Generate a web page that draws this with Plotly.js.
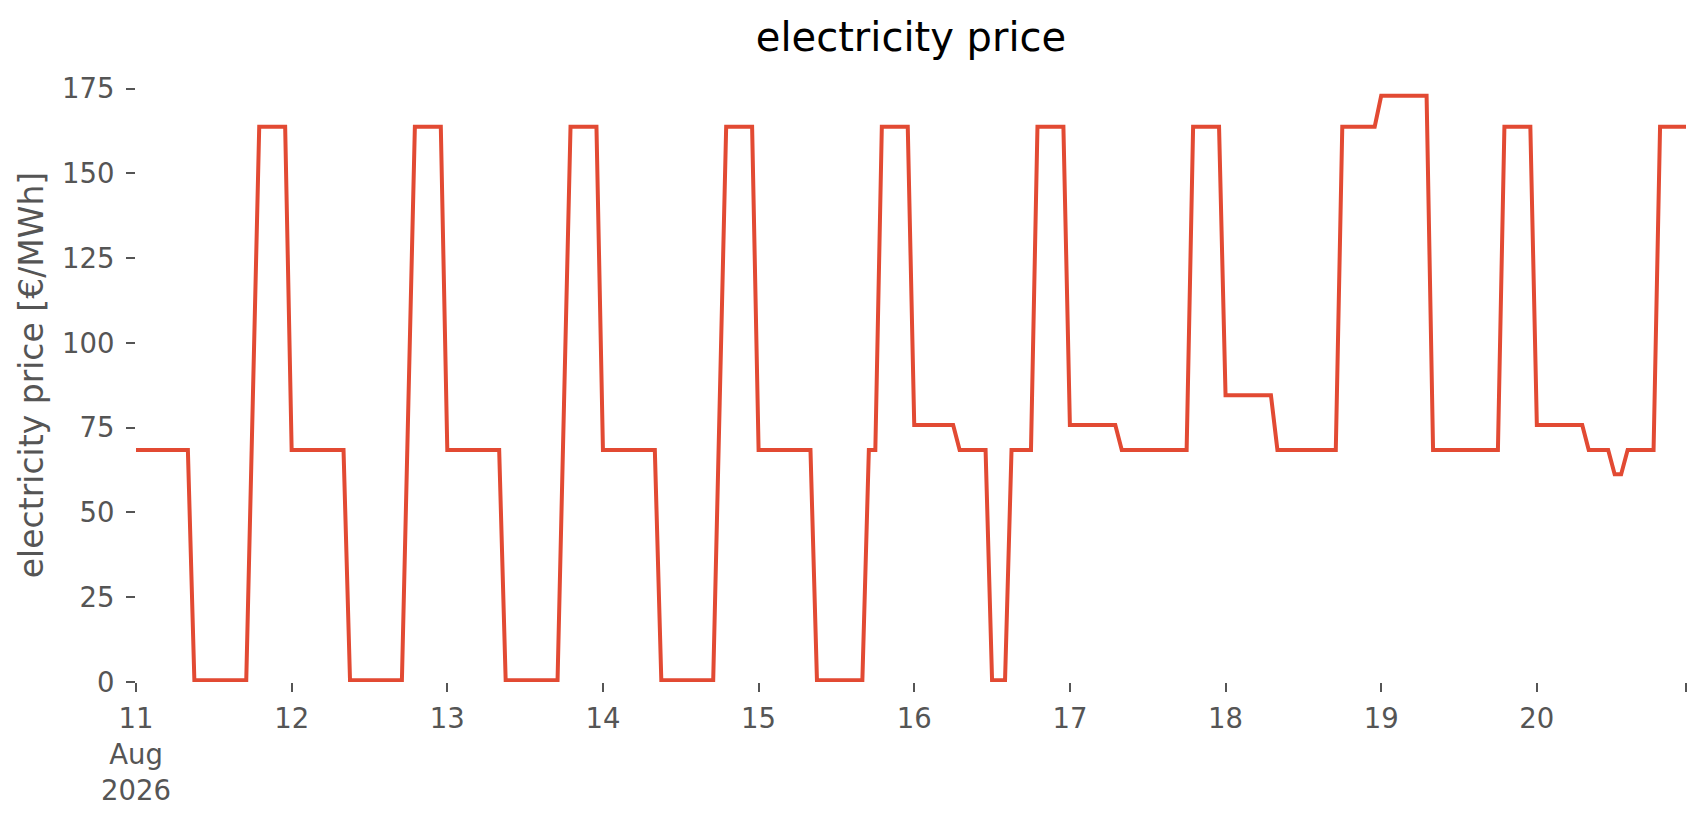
<!DOCTYPE html>
<html>
<head>
<meta charset="utf-8">
<script src="https://cdn.plot.ly/plotly-3.0.1.min.js"></script>
<style>
  html, body { margin: 0; padding: 0; background: #ffffff; }
  #price-plot { width: 1706px; height: 815px; }
</style>
</head>
<body>
<div id="price-plot"></div>
<script>
// hourly prices, one row per day, starting 2026-08-11 00:00
var start_time = '2026-08-11T00:00:00';
var day_prices_11 = [68.4,68.4,68.4,68.4,68.4,68.4,68.4,68.4,68.4, 0.5,0.5,0.5,0.5,0.5,0.5,0.5,0.5,0.5, 82.2, 163.8,163.8,163.8,163.8,163.8];
var day_prices_12 = [68.4,68.4,68.4,68.4,68.4,68.4,68.4,68.4,68.4, 0.5,0.5,0.5,0.5,0.5,0.5,0.5,0.5,0.5, 82.2, 163.8,163.8,163.8,163.8,163.8];
var day_prices_13 = [68.4,68.4,68.4,68.4,68.4,68.4,68.4,68.4,68.4, 0.5,0.5,0.5,0.5,0.5,0.5,0.5,0.5,0.5, 82.2, 163.8,163.8,163.8,163.8,163.8];
var day_prices_14 = [68.4,68.4,68.4,68.4,68.4,68.4,68.4,68.4,68.4, 0.5,0.5,0.5,0.5,0.5,0.5,0.5,0.5,0.5, 82.2, 163.8,163.8,163.8,163.8,163.8];
var day_prices_15 = [68.4,68.4,68.4,68.4,68.4,68.4,68.4,68.4,68.4, 0.5,0.5,0.5,0.5,0.5,0.5,0.5,0.5, 68.4,68.4, 163.8,163.8,163.8,163.8,163.8];
var day_prices_16 = [75.8,75.8,75.8,75.8,75.8,75.8,75.8, 68.4,68.4,68.4,68.4,68.4, 0.5,0.5,0.5, 68.4,68.4,68.4,68.4, 163.8,163.8,163.8,163.8,163.8];
var day_prices_17 = [75.8,75.8,75.8,75.8,75.8,75.8,75.8,75.8, 68.4,68.4,68.4,68.4,68.4,68.4,68.4,68.4,68.4,68.4,68.4, 163.8,163.8,163.8,163.8,163.8];
var day_prices_18 = [84.6,84.6,84.6,84.6,84.6,84.6,84.6,84.6, 68.4,68.4,68.4,68.4,68.4,68.4,68.4,68.4,68.4,68.4, 163.8,163.8,163.8,163.8,163.8,163.8];
var day_prices_19 = [172.9,172.9,172.9,172.9,172.9,172.9,172.9,172.9, 68.4,68.4,68.4,68.4,68.4,68.4,68.4,68.4,68.4,68.4,68.4, 163.8,163.8,163.8,163.8,163.8];
var day_prices_20 = [75.8,75.8,75.8,75.8,75.8,75.8,75.8,75.8, 68.4,68.4,68.4,68.4, 61.3,61.3, 68.4,68.4,68.4,68.4,68.4, 163.8,163.8,163.8,163.8,163.8];

var tick_dates = ['2026-08-11','2026-08-12','2026-08-13','2026-08-14','2026-08-15',
                  '2026-08-16','2026-08-17','2026-08-18','2026-08-19','2026-08-20','2026-08-20 23:00'];
var tick_labels = ['11<br>Aug<br>2026','12','13','14','15','16','17','18','19','20',''];
var y_ticks = [0, 25, 50, 75, 100, 125, 150, 175];

var price = [].concat(day_prices_11, day_prices_12, day_prices_13, day_prices_14, day_prices_15,
                      day_prices_16, day_prices_17, day_prices_18, day_prices_19, day_prices_20);

// hourly timestamps
var times = [];
var t0 = new Date(start_time + 'Z').getTime();
for (var i = 0; i < price.length; i++) {
    times.push(new Date(t0 + i * 3600000).toISOString().slice(0, 19).replace('T', ' '));
}

var trace = {
    x: times,
    y: price,
    type: 'scatter',
    mode: 'lines',
    line: {color: '#E24A33', width: 4},
    hoverinfo: 'x+y'
};

var grey = '#555555';
var layout = {
    width: 1706,
    height: 815,
    font: {family: 'DejaVu Sans, sans-serif', color: grey},
    title: {
        text: 'electricity price',
        font: {size: 40, color: '#000000'},
        x: 0.534, xanchor: 'center',
        y: 0.955, yanchor: 'middle'
    },
    xaxis: {
        type: 'date',
        range: [times[0], times[times.length - 1]],
        tickvals: tick_dates,
        ticktext: tick_labels,
        tickfont: {size: 27.5, color: grey},
        ticks: 'outside', ticklen: 9, tickwidth: 2, tickcolor: grey,
        ticklabelstandoff: 3,
        showgrid: false, zeroline: false, showline: false
    },
    yaxis: {
        title: {text: 'electricity price [€/MWh]', font: {size: 33, color: grey}, standoff: 8},
        range: [0, 181.1],
        tickvals: y_ticks,
        tickfont: {size: 27.5, color: grey},
        ticks: 'outside', ticklen: 9, tickwidth: 2, tickcolor: grey,
        ticklabelstandoff: 6,
        showgrid: false, zeroline: false, showline: false
    },
    margin: {l: 136, r: 20, t: 68, b: 133},
    showlegend: false,
    plot_bgcolor: '#ffffff',
    paper_bgcolor: '#ffffff'
};

Plotly.newPlot('price-plot', [trace], layout, {displayModeBar: false});
</script>
</body>
</html>
